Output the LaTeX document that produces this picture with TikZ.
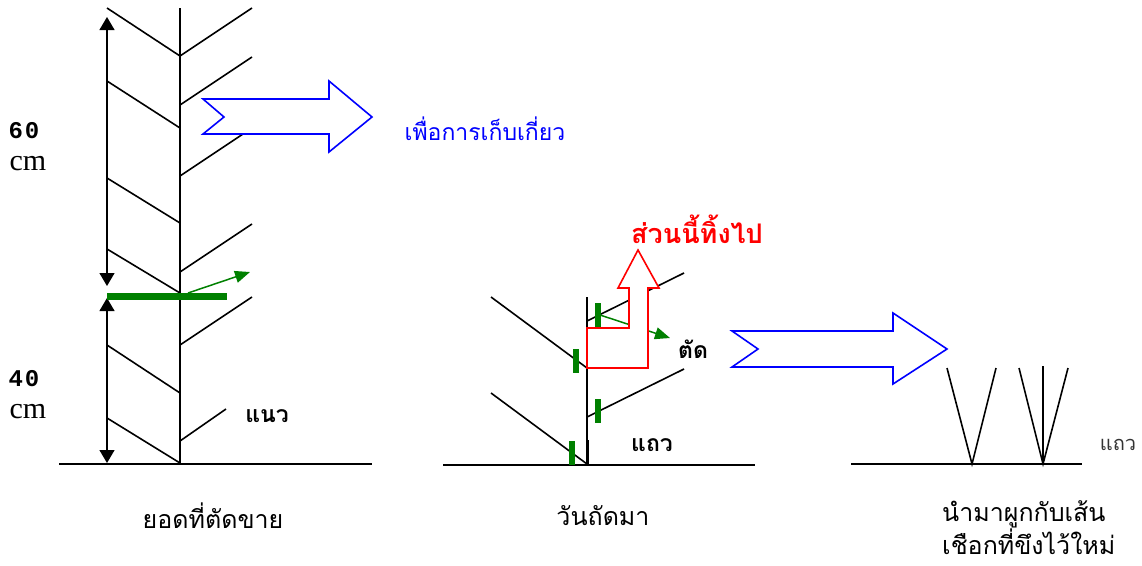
\documentclass[tikz,border=0pt]{standalone}
\usepackage{fontspec}
\setmainfont{Liberation Serif}
\newfontfamily\thaifont[Script=Thai]{Loma}
\newfontfamily\numfont{Liberation Mono}
\usetikzlibrary{arrows.meta}

\definecolor{leafgreen}{RGB}{0,128,0}
\definecolor{flowblue}{RGB}{0,0,255}
\definecolor{dropred}{RGB}{255,0,0}

\tikzset{
  stem/.style={line width=1.6pt},
  dimline/.style={line width=1.2pt,
    {Triangle[width=15pt,length=13pt]}-{Triangle[width=15pt,length=13pt]}},
  cutmark/.style={leafgreen,line width=6pt},
  cutarrow/.style={leafgreen,line width=1.5pt,-{Triangle[width=12pt,length=15pt]}},
  flowarrow/.style={draw=flowblue,fill=white,line width=1.6pt},
  droparrow/.style={draw=dropred,fill=white,line width=1.6pt},
  thailabel/.style={font=\thaifont\fontsize{25}{29}\selectfont},
  thaibold/.style={font=\thaifont\bfseries\fontsize{23}{26}\selectfont},
  numlabel/.style={font=\numfont\bfseries\fontsize{24}{26}\selectfont},
  unitlabel/.style={font=\fontsize{30}{32}\selectfont},
}

\begin{document}
\begin{tikzpicture}[x=1pt,y=-1pt]
\useasboundingbox (0,0) rectangle (1142,565);

% Yod
\draw[stem] (180,8) -- (180,465);
\draw[stem] (59,464) -- (372,464);
\foreach \ya/\yb in {8/56, 81/128, 178/223, 249/293, 345/393, 418/463}
  \draw[stem] (107,\ya) -- (180,\yb);
\foreach \ya/\yb in {56/8, 105/57, 176/128, 272/224, 345/297}
  \draw[stem] (180,\ya) -- (252,\yb);
\draw[stem] (180,441) -- (226,409);

% Dimensions
\draw[dimline] (107,17) -- (107,286);
\draw[dimline] (107,298) -- (107,463);

\node[numlabel] (n60) at (24,131) {6\kern2pt0};
\node[unitlabel] (cm60) at (28,164) {cm};
\node[numlabel] (n40) at (24,379) {4\kern2pt0};
\node[unitlabel] (cm40) at (28,412) {cm};

% Cut
\draw[leafgreen,line width=7pt] (107,296) -- (227,296);
\draw[cutarrow] (188,293) -- (250,272);

% Harvest arrow
\draw[flowarrow] (203,99) -- (224,117) -- (203,134) -- (329,134) -- (329,152)
  -- (372,117) -- (329,81) -- (329,99) -- cycle;
\node[thailabel,font=\thaifont\fontsize{23}{26}\selectfont,text=flowblue]
  (harvest) at (485,129) {เพื่อการเก็บเกี่ยว};

\node[thaibold] (naeo) at (267,416) {แนว};
\node[thailabel] (yod) at (213,516) {ยอดที่ตัดขาย};

% Next day
\draw[stem] (443,465) -- (755,465);
\draw[stem] (587,297) -- (587,465);
\draw[line width=3pt] (587,440) -- (587,465);
\draw[stem] (491,297) -- (587,368);
\draw[stem] (491,393) -- (587,464);
\draw[stem] (587,321) -- (684,273);
\draw[stem] (587,417) -- (684,369);

\foreach \x/\y in {598/315, 576/361, 598/411, 572/453}
  \draw[cutmark] ({\x},{\y-12}) -- ({\x},{\y+12});

\draw[cutarrow] (600,315) -- (670,338);

\draw[droparrow] (587,368) -- (587,328) -- (629,328) -- (629,288) -- (618,288)
  -- (638,250) -- (659,288) -- (648,288) -- (648,368) -- cycle;
\node[text=dropred,font=\thaifont\bfseries\fontsize{27}{30}\selectfont]
  (drop) at (697,229) {ส่วนนี้ทิ้งไป};

\node[thaibold] (tad) at (693,349) {ตัด};
\node[thaibold] (thaeo) at (652,445) {แถว};
\node[thailabel] (nextday) at (603,516) {วันถัดมา};

% Tie arrow
\draw[flowarrow] (732,331) -- (758,349) -- (732,367) -- (893,367) -- (893,384)
  -- (947,349) -- (893,313) -- (893,331) -- cycle;

% Replanted
\draw[stem] (851,464) -- (1082,464);
\draw[stem] (947,368) -- (972,464) -- (996,368);
\draw[stem] (1019,368) -- (1043,464) -- (1068,368);
\draw[stem] (1043,366) -- (1043,464);

\node[font=\thaifont\fontsize{20}{22}\selectfont,text=black!80]
  (row) at (1118,445) {แถว};
\node[thailabel,align=left,anchor=north west,inner sep=0pt] (tie) at (942,500)
  {นำมาผูกกับเส้น\\เชือกที่ขึงไว้ใหม่};

\end{tikzpicture}
\end{document}
